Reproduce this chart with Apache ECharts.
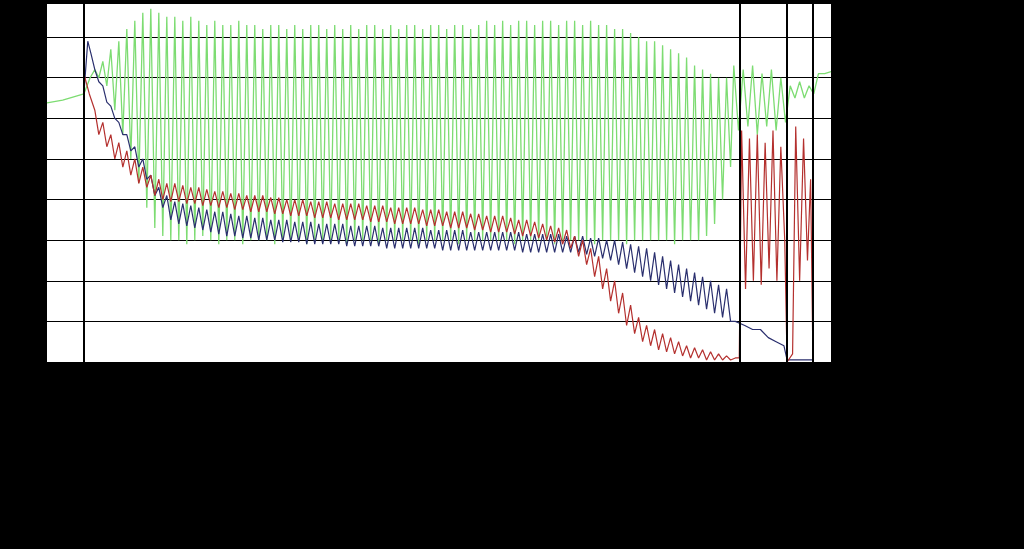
<!DOCTYPE html>
<html>
<head>
<meta charset="utf-8">
<script src="https://cdn.jsdelivr.net/npm/echarts@6/dist/echarts.min.js"></script>
<style>
  html,body{margin:0;padding:0;background:#000;}
  #chart{width:1024px;height:549px;}
</style>
</head>
<body>
<div id="chart"></div>
<script>
// oscillating section: cycle i sits at x = oscStart + i*oscStep (axis units 0..1000)
const oscStart = 61
const oscStep = 10.2

const greenHi = [7.2,7.4,7.7,7.9,8.2,8.4,8.6,8.7,8.6,8.5,
  8.5,8.4,8.5,8.4,8.3,8.4,8.3,8.3,8.4,8.3,
  8.3,8.2,8.3,8.3,8.2,8.3,8.2,8.3,8.3,8.2,
  8.3,8.2,8.3,8.2,8.3,8.3,8.2,8.3,8.2,8.3,
  8.3,8.2,8.3,8.3,8.2,8.3,8.3,8.2,8.3,8.4,
  8.3,8.4,8.3,8.4,8.4,8.3,8.4,8.4,8.3,8.4,
  8.4,8.3,8.4,8.3,8.3,8.2,8.2,8.1,8.0,7.9,
  7.9,7.8,7.7,7.6,7.5,7.3,7.2,7.1,7.0,7.0]
const greenLo = [7.0,6.8,6.2,5.6,5.0,4.4,3.8,3.3,3.1,3.0,
  3.0,2.9,3.0,3.1,3.0,2.9,3.0,3.0,2.9,3.0,
  3.0,3.0,2.9,3.0,3.0,3.0,2.9,3.0,3.0,3.0,
  3.0,2.9,3.0,3.0,3.0,2.9,3.0,3.0,3.0,3.0,
  2.9,3.0,3.0,3.0,3.0,2.9,3.0,3.0,3.0,3.0,
  3.0,3.0,2.9,3.0,3.0,3.0,3.0,2.9,3.0,3.0,
  3.0,3.0,2.9,3.0,3.0,3.0,2.9,3.0,3.0,3.0,
  3.0,3.0,2.9,3.0,3.0,3.0,3.1,3.4,4.0,4.8]

const redHi = [6.2,5.9,5.6,5.4,5.2,5.0,4.8,4.6,4.5,4.4,
  4.4,4.35,4.3,4.3,4.25,4.2,4.2,4.15,4.15,4.1,
  4.1,4.1,4.05,4.05,4.0,4.0,4.0,3.95,3.95,3.95,
  3.9,3.9,3.9,3.9,3.85,3.85,3.85,3.8,3.8,3.8,
  3.8,3.75,3.75,3.75,3.7,3.7,3.7,3.65,3.65,3.6,
  3.6,3.6,3.55,3.5,3.5,3.45,3.4,3.35,3.3,3.25,
  3.1,3.0,2.8,2.6,2.3,2.0,1.7,1.4,1.1,0.9,
  0.8,0.7,0.6,0.5,0.4,0.35,0.3,0.25,0.2,0.15]
const redLo = [5.6,5.3,5.0,4.8,4.6,4.4,4.3,4.1,4.0,3.95,
  3.95,3.9,3.9,3.85,3.85,3.8,3.8,3.75,3.75,3.7,
  3.7,3.7,3.65,3.65,3.6,3.6,3.6,3.55,3.55,3.55,
  3.5,3.5,3.5,3.5,3.45,3.45,3.45,3.4,3.4,3.4,
  3.4,3.35,3.35,3.35,3.3,3.3,3.3,3.25,3.25,3.2,
  3.2,3.2,3.15,3.1,3.1,3.05,3.0,2.95,2.9,2.8,
  2.6,2.4,2.1,1.8,1.5,1.2,0.9,0.7,0.5,0.4,
  0.3,0.25,0.2,0.15,0.1,0.1,0.05,0.05,0.05,0.05]

const navyHi = [7.2,6.8,6.3,5.9,5.6,5.3,5.0,4.6,4.3,4.1,
  3.95,3.9,3.85,3.8,3.75,3.7,3.7,3.65,3.6,3.6,
  3.55,3.55,3.5,3.5,3.5,3.45,3.45,3.45,3.4,3.4,
  3.4,3.4,3.35,3.35,3.35,3.35,3.3,3.3,3.3,3.3,
  3.3,3.3,3.25,3.25,3.25,3.25,3.25,3.2,3.2,3.2,
  3.2,3.2,3.2,3.2,3.15,3.15,3.15,3.15,3.15,3.1,
  3.1,3.1,3.05,3.05,3.0,3.0,2.95,2.9,2.85,2.8,
  2.7,2.6,2.5,2.4,2.3,2.2,2.1,2.0,1.9,1.8]
const navyLo = [6.9,6.4,6.0,5.6,5.2,4.8,4.5,4.1,3.8,3.5,
  3.4,3.35,3.3,3.25,3.2,3.15,3.1,3.1,3.05,3.05,
  3.0,3.0,3.0,2.95,2.95,2.95,2.9,2.9,2.9,2.9,
  2.9,2.85,2.85,2.85,2.85,2.85,2.8,2.8,2.8,2.8,
  2.8,2.8,2.8,2.75,2.75,2.75,2.75,2.75,2.75,2.75,
  2.75,2.75,2.75,2.7,2.7,2.7,2.7,2.7,2.7,2.7,
  2.7,2.65,2.6,2.55,2.5,2.4,2.3,2.2,2.1,2.0,
  1.9,1.8,1.7,1.6,1.5,1.4,1.3,1.2,1.1,1.0]

// flat lead-in before the oscillations and the tail after them, [x, y]
const greenHead = [[0,6.38],[20,6.45],[47,6.6],[55,7.0]]
const greenTail = [[876,7.3],[882,5.7],[888,7.2],[894,5.8],[900,7.3],[906,5.6],[912,7.1],[918,5.8],[924,7.2],[930,5.7],[936,7.0],[942,5.9],
  [948,6.8],[954,6.5],[960,6.9],[966,6.5],[972,6.8],[978,6.6],[984,7.1],[992,7.1],[1000,7.15]]
const redHead = [[47,7.1],[54,6.6]]
const redTail = [[878,0.1],[883,0.1],[886,5.7],[891,1.8],[896,5.5],[901,2.0],[906,5.6],[911,1.9],[916,5.4],[921,2.3],[926,5.7],[931,2.0],[936,5.3],[941,3.0],[944,0.0],
  [951,0.2],[955,5.8],[960,2.0],[965,5.5],[970,2.5],[974,4.5],[977,0.0]]
const navyHead = [[47,6.6],[52,7.9],[56,7.6]]
const navyTail = [[878,1.0],[890,0.9],[900,0.8],[910,0.8],[920,0.6],[930,0.5],[940,0.4],[944,0.05],[977,0.05]]

const vLines = [47, 883, 944, 977]

function build(head, hi, lo, tail){
  const out = head.slice()
  hi.forEach((h,i)=>{
    out.push([oscStart + i*oscStep, h])
    out.push([oscStart + i*oscStep + oscStep/2, lo[i]])
  })
  return out.concat(tail)
}

const chart = echarts.init(document.getElementById('chart'))
const lineSeries = (name, data, color, w) => ({
  name, type:'line', data, symbol:'none', animation:false,
  lineStyle:{color, width:w}
})
chart.setOption({
  backgroundColor:'#000',
  animation:false,
  grid:{left:47, right:193, top:3, bottom:187, show:true, backgroundColor:'#fff', borderWidth:0},
  xAxis:{type:'value', min:0, max:1000, axisLine:{show:false}, axisTick:{show:false}, axisLabel:{show:false}, splitLine:{show:false}},
  yAxis:{type:'value', min:0, max:8.84, interval:1, axisLine:{show:false}, axisTick:{show:false}, axisLabel:{show:false},
    splitLine:{show:true, lineStyle:{color:'#000', width:1}}},
  series:[
    lineSeries('green', build(greenHead, greenHi, greenLo, greenTail), '#7ddc72', 1.3),
    lineSeries('navy', build(navyHead, navyHi, navyLo, navyTail), '#2a2f6e', 1.2),
    Object.assign(lineSeries('red', build(redHead, redHi, redLo, redTail), '#b4302e', 1.2), {
      markLine:{symbol:'none', silent:true, label:{show:false},
        lineStyle:{color:'#000', width:2, type:'solid'},
        data: vLines.map(v=>({xAxis:v}))}
    })
  ]
})
</script>
</body>
</html>
